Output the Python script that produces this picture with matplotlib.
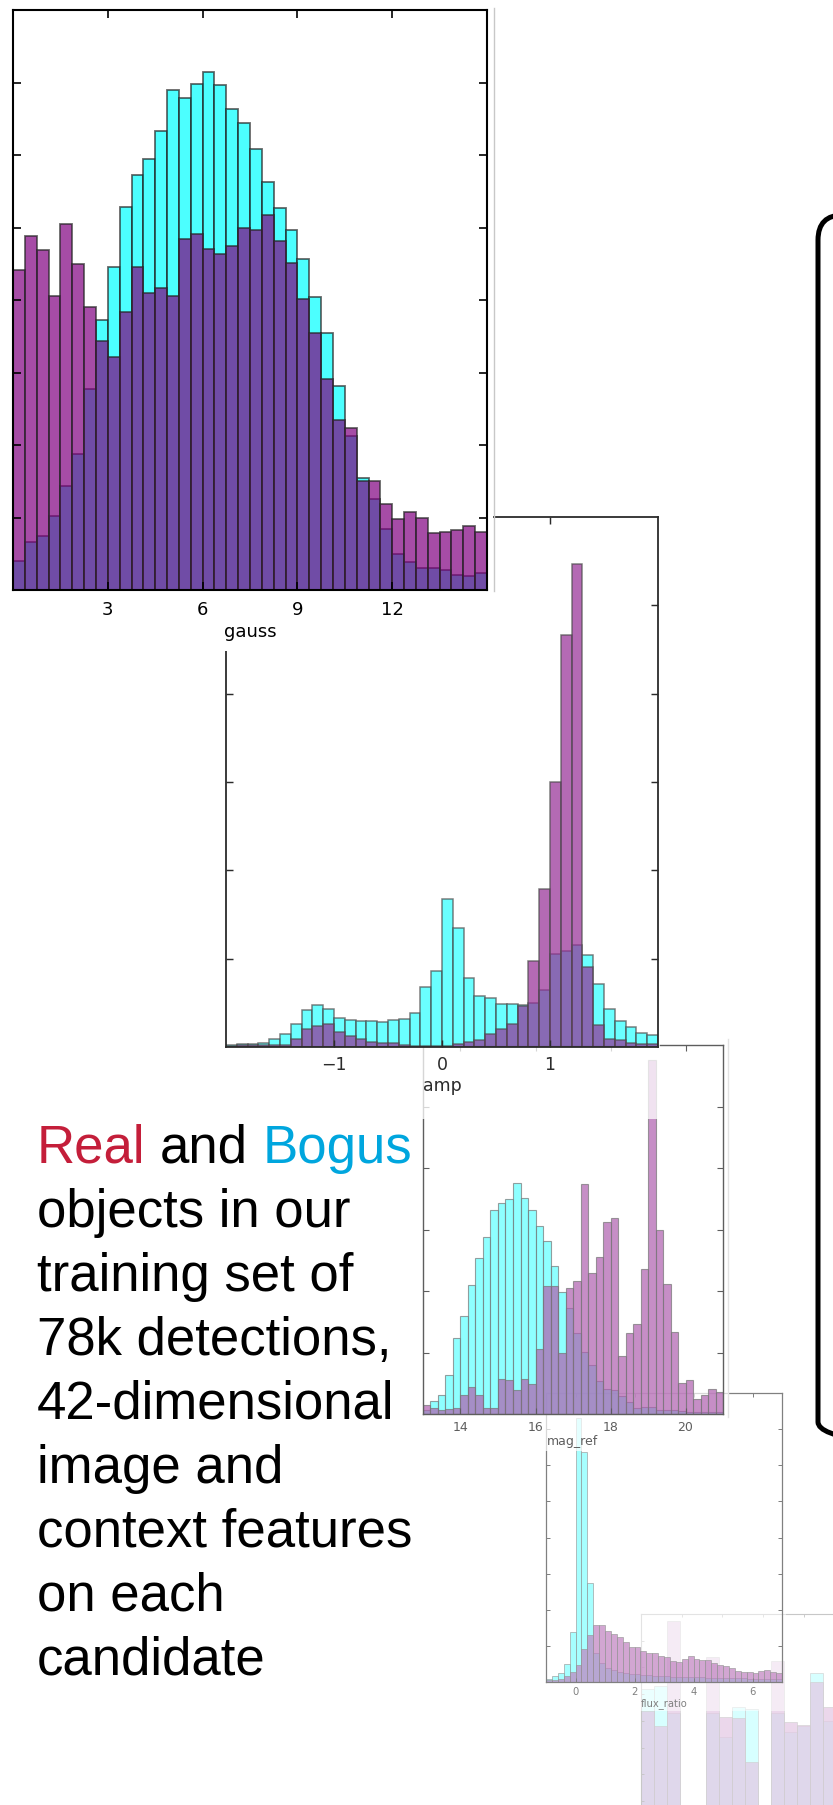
import numpy as np
import matplotlib.pyplot as plt
from matplotlib.patches import Rectangle, FancyBboxPatch

W, H = 833, 1806

# bin heights (tick spacing = 1 unit)
gauss_bogus = [0.40, 0.66, 0.75, 1.02, 1.43, 1.88, 2.77, 3.72, 4.45, 5.28, 5.72, 5.95, 6.33, 6.90,
               6.79, 6.98, 7.15, 6.97, 6.63, 6.44, 6.08, 5.63, 5.27, 4.96, 4.57, 4.04, 3.55, 2.82,
               2.13, 1.54, 1.26, 0.84, 0.49, 0.39, 0.31, 0.30, 0.28, 0.21, 0.20, 0.23]
gauss_real = [4.42, 4.88, 4.69, 4.06, 5.05, 4.50, 3.90, 3.43, 3.22, 3.83, 4.46, 4.09, 4.17, 4.05,
              4.84, 4.91, 4.71, 4.63, 4.75, 5.00, 4.97, 5.17, 4.81, 4.51, 4.01, 3.54, 2.91, 2.35,
              2.24, 1.50, 1.50, 1.19, 0.98, 1.08, 0.99, 0.78, 0.80, 0.83, 0.88, 0.80]

amp_bogus = [0.02, 0.03, 0.035, 0.05, 0.09, 0.15, 0.26, 0.42, 0.48, 0.43, 0.33, 0.31, 0.30, 0.30,
             0.28, 0.31, 0.32, 0.38, 0.68, 0.86, 1.67, 1.35, 0.78, 0.58, 0.55, 0.49, 0.49, 0.47,
             0.50, 0.64, 1.05, 1.09, 1.16, 1.04, 0.71, 0.43, 0.29, 0.23, 0.16, 0.14]
amp_real = [0.01, 0.02, 0.02, 0.02, 0.02, 0.02, 0.09, 0.20, 0.24, 0.26, 0.17, 0.12, 0.09, 0.06,
            0.04, 0.04, 0.02, 0.01, 0.01, 0.01, 0.01, 0.03, 0.06, 0.08, 0.15, 0.20, 0.26, 0.46,
            0.97, 1.79, 3.00, 4.66, 5.47, 0.91, 0.25, 0.09, 0.08, 0.04, 0.03, 0.03]

mag_bogus = [0.07, 0.21, 0.31, 0.63, 1.24, 1.59, 2.10, 2.53, 2.88, 3.31, 3.43, 3.50, 3.76, 3.51,
             3.31, 3.05, 2.81, 2.40, 1.99, 1.72, 1.32, 1.01, 0.80, 0.53, 0.41, 0.39, 0.30, 0.19,
             0.09, 0.12, 0.11, 0.07, 0.07, 0.07, 0.05, 0.04, 0.04, 0.04, 0.04, 0.04]
mag_real = [0.15, 0.09, 0.07, 0.08, 0.09, 0.31, 0.44, 0.31, 0.09, 0.10, 0.57, 0.55, 0.39, 0.57,
            0.49, 1.05, 2.08, 2.08, 0.99, 2.05, 2.16, 3.74, 2.29, 2.56, 3.13, 3.18, 0.94, 1.32,
            1.46, 2.35, 5.75, 3.00, 2.11, 1.34, 0.51, 0.56, 0.24, 0.31, 0.40, 0.36]

flux_bogus = [0.09, 0.16, 0.25, 0.50, 1.38, 7.31, 6.38, 2.73, 0.80, 0.53, 0.39, 0.32, 0.28, 0.25,
              0.23, 0.21, 0.19, 0.18, 0.17, 0.17, 0.16, 0.15, 0.14, 0.14, 0.13, 0.13, 0.13, 0.12,
              0.11, 0.11, 0.11, 0.10, 0.10, 0.10, 0.09, 0.09, 0.09, 0.09, 0.09, 0.08]
flux_real = [0.05, 0.06, 0.09, 0.16, 0.28, 0.48, 0.90, 1.29, 1.59, 1.59, 1.41, 1.33, 1.24, 1.12,
             0.98, 0.97, 0.85, 0.80, 0.81, 0.73, 0.69, 0.58, 0.56, 0.63, 0.71, 0.65, 0.61, 0.61,
             0.52, 0.46, 0.44, 0.39, 0.30, 0.28, 0.28, 0.26, 0.30, 0.32, 0.28, 0.25]

last_bogus = [7.19, 7.29, 6.3, 0, 0, 6.3, 5.38, 6.51, 6.44, 0, 6.3, 5.57, 5.8, 7.78, 6.0]
last_real = [6.38, 5.79, 9.75, 0, 0, 8.38, 6.13, 6.09, 4.47, 0, 8.25, 5.97, 5.84, 7.44, 6.5]

lines = ["objects in our", "training set of", "78k detections,", "42-dimensional",
         "image and", "context features", "on each", "candidate"]

RED = "#C41E3A"
BLUE = "#00A6DE"

fig = plt.figure(figsize=(W / 100, H / 100), dpi=100)


def frac(x0, y0, x1, y1):
    return [x0 / W, 1 - y1 / H, (x1 - x0) / W, (y1 - y0) / H]


def fade(rgb, f):
    # colour of rgb seen through a panel shown at opacity f over white
    return tuple(1 - f * (1 - c) for c in rgb)


def backdrop(x0, y0, x1, y1, a, z):
    r = Rectangle((x0 / W, 1 - y1 / H), (x1 - x0) / W, (y1 - y0) / H, transform=fig.transFigure,
                  facecolor="white", edgecolor="none", alpha=a, zorder=z)
    fig.add_artist(r)


def panel(px, lo, w, bogus, real, xlim, ymax, xticks, yticks, xlabel, f, z,
          fs, tlen, slw, blw, pad, lpad, labels=True):
    ax = fig.add_axes(frac(*px))
    ax.set_zorder(z)
    ax.patch.set_visible(False)
    edges = lo + w * np.arange(len(bogus) + 1)
    edge = fade((0.15, 0.15, 0.15), f)
    ax.bar(edges[:-1], bogus, width=w, align="edge", color=fade((0, 1, 1), f), alpha=0.7,
           edgecolor=edge, linewidth=blw)
    ax.bar(edges[:-1], real, width=w, align="edge", color=fade((0.5, 0, 0.5), f), alpha=0.7,
           edgecolor=edge, linewidth=blw)
    ax.set_xlim(*xlim)
    ax.set_ylim(0, ymax)
    ax.set_xticks(xticks)
    ax.set_yticks(yticks)
    ink = fade((0, 0, 0), f)
    ax.tick_params(direction="in", top=True, right=True, length=tlen, width=slw * 0.8,
                   color=ink, labelcolor=ink, labelsize=fs, pad=pad, labelleft=False,
                   labelbottom=labels)
    for s in ax.spines.values():
        s.set_color(ink)
        s.set_linewidth(slw)
    if xlabel:
        ax.set_xlabel(xlabel, fontsize=fs, color=ink, labelpad=lpad)
    return ax


# back to front
panel((641, 1615, 901, 1882), 0, 0.32, last_bogus, last_real, (0, 6.4), 10,
      [1, 2, 3, 4], range(1, 10), None, 0.22, 1, 6, 2.5, 0.8, 0.6, 3, 1, labels=False)

backdrop(530, 1385, 786, 1712, 0.5, 2)
panel((546, 1394, 782, 1683), -1, 0.2, flux_bogus, flux_real, (-1, 7), 8,
      [0, 2, 4, 6], range(1, 8), "flux_ratio", 0.5, 3, 7.2, 3, 0.9, 0.6, 3, 1)

backdrop(400, 1040, 728, 1452, 0.7, 4)
panel((423, 1046, 723, 1415), 13, 0.2, mag_bogus, mag_real, (13, 21), 6,
      [14, 16, 18, 20], range(1, 6), "mag_ref", 0.63, 5, 9, 4.3, 1.0, 0.8, 4, 1)

backdrop(200, 500, 660, 1120, 0.75, 6)
panel((226, 518, 658, 1048), -2, 0.1, amp_bogus, amp_real, (-2, 2), 6,
      [-1, 0, 1], range(1, 6), "amp", 0.83, 7, 12.5, 5, 1.3, 1.1, 6, 2)

backdrop(0, 0, 493, 652, 1.0, 8)
panel((13, 11, 487, 591), 0, 0.375, gauss_bogus, gauss_real, (0, 15), 8,
      [3, 6, 9, 12], range(1, 8), "gauss", 1.0, 9, 13, 6, 1.5, 1.3, 7, 3)

# overlay in pixel coordinates: frame edges, text, rounded box
ov = fig.add_axes([0, 0, 1, 1])
ov.set_zorder(20)
ov.set_xlim(0, W)
ov.set_ylim(H, 0)
ov.axis("off")
ov.patch.set_visible(False)

ov.plot([494.5, 494.5], [9, 592], color="#c8c8c8", lw=1)
ov.plot([728, 728], [1040, 1418], color="#e2e2e2", lw=1)

box = FancyBboxPatch((818, 216), 220, 1232, boxstyle="round,pad=0,rounding_size=25",
                     facecolor="none", edgecolor="black", linewidth=3.6)
ov.add_patch(box)

font = dict(family="Liberation Sans", fontsize=38)
t1 = ov.text(37, 1163, "Real", color=RED, va="baseline", **font)
t2 = ov.annotate("and", xy=(1, 0), xycoords=t1, xytext=(10.6, 0), textcoords="offset points",
                 va="bottom", color="black", **font)
t3 = ov.annotate("Bogus", xy=(1, 0), xycoords=t2, xytext=(10.6, 0), textcoords="offset points",
                 va="bottom", color=BLUE, **font)
for i, line in enumerate(lines):
    ov.text(37, 1227 + 64 * i, line, color="black", va="baseline", **font)

fig.savefig("out.png", dpi=100)
